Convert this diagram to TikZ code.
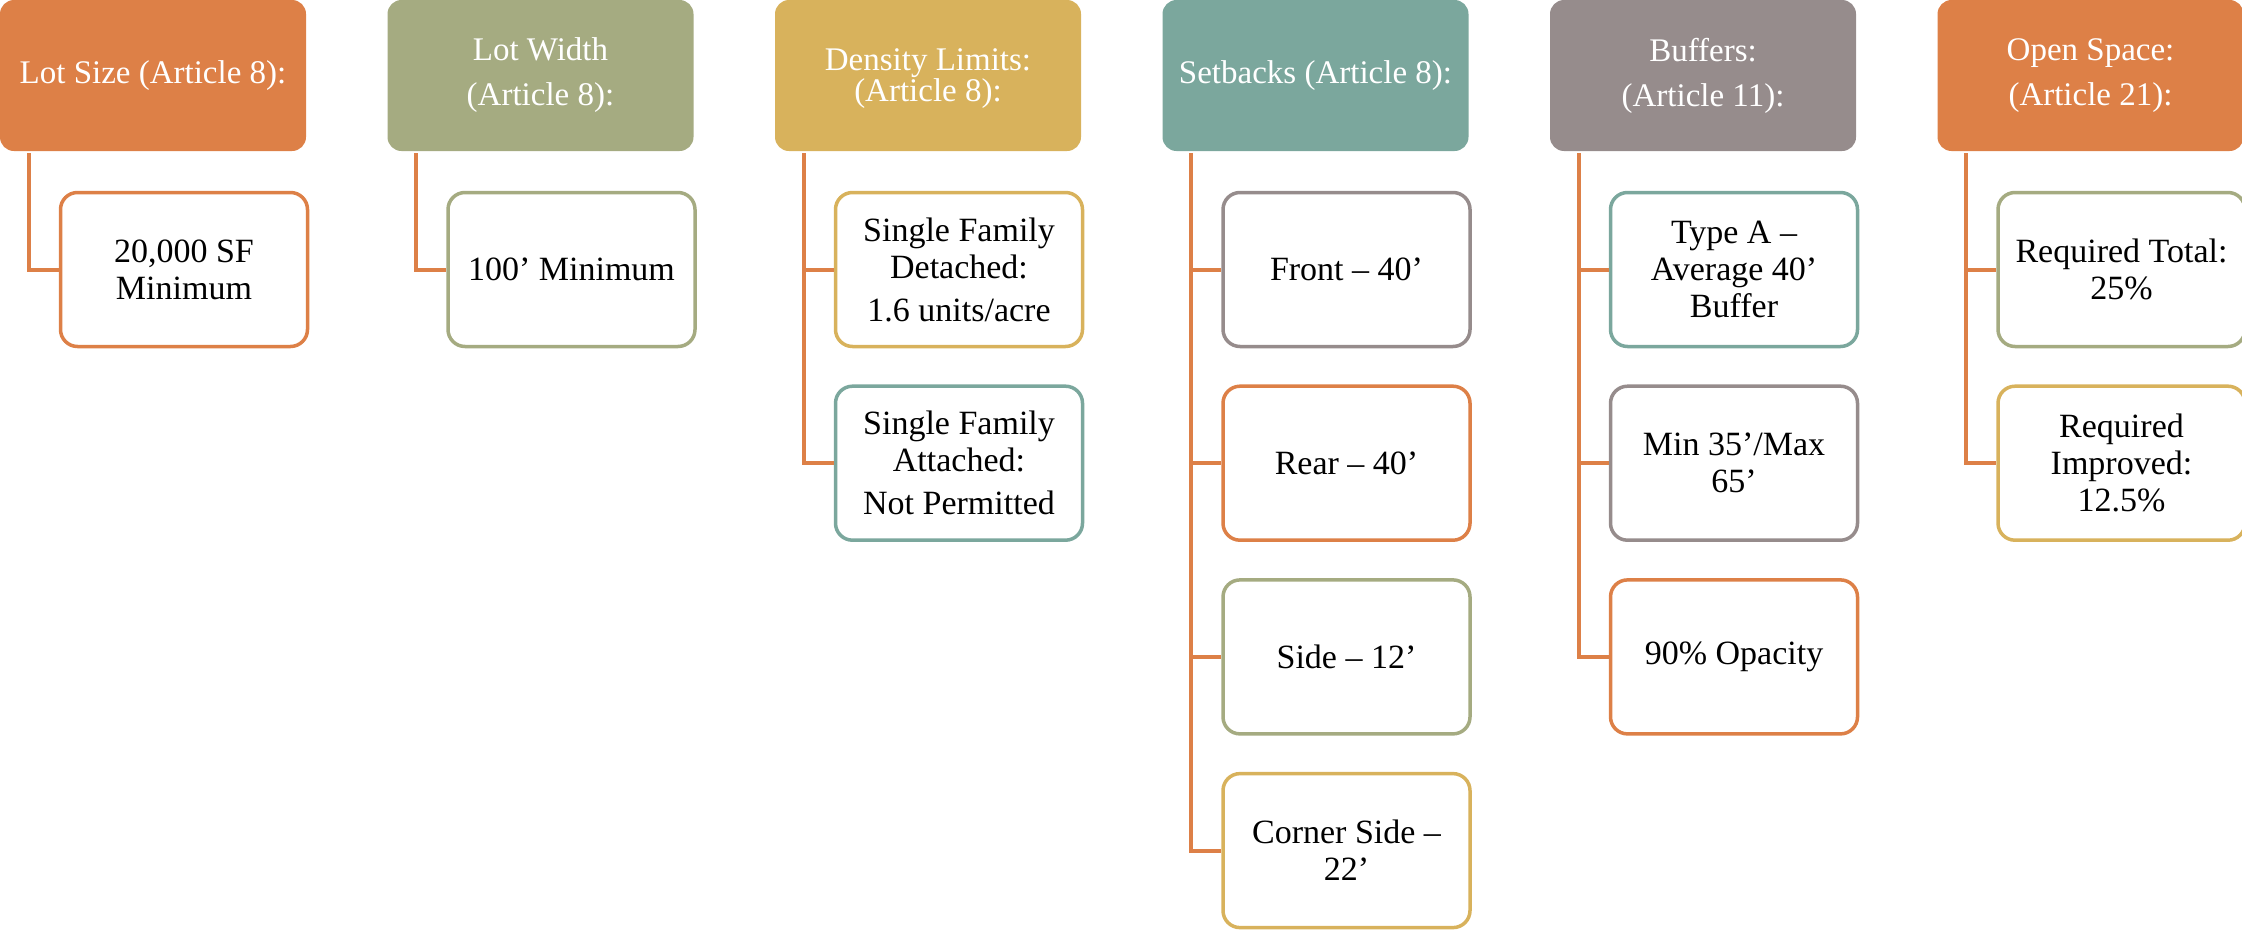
\documentclass[tikz,border=0pt]{standalone}
\usepackage{fontspec}
\setmainfont{Liberation Serif}
\definecolor{corange}{HTML}{DD8047}
\definecolor{colive}{HTML}{A5AB81}
\definecolor{cgold}{HTML}{D8B25C}
\definecolor{cteal}{HTML}{7BA79D}
\definecolor{cgrey}{HTML}{968C8C}
\tikzset{
  hdr/.style={fill=#1, draw=none, rounded corners=14pt, minimum width=306pt, minimum height=151pt,
    text=white, align=center, font=\fontsize{33}{45}\selectfont, inner sep=0pt},
  child/.style={draw=#1, fill=white, line width=3.5pt, rounded corners=17pt, minimum width=247pt,
    minimum height=154pt, text=black, align=center, font=\fontsize{34}{37}\selectfont, inner sep=0pt},
  conn/.style={draw=corange, line width=4pt}
}
\begin{document}
\begin{tikzpicture}[x=1pt,y=-1pt]
\useasboundingbox (0,0) rectangle (2242,929);
% headers
\node[hdr=corange] (h1) at (153,75.5) {Lot Size (Article 8):};
\node[hdr=colive] (h2) at (540.5,75.5) {Lot Width\\(Article 8):};
\node[hdr=cgold] (h3) at (928,75.5) {};
\node[text=white, align=center, font=\fontsize{33}{31}\selectfont, inner sep=0pt] (h3t) at (928,79) {Density Limits:\\(Article 8):};
\node[hdr=cteal] (h4) at (1315.5,75.5) {Setbacks (Article 8):};
\node[hdr=cgrey] (h5) at (1703,75.5) {Buffers:\\(Article 11):};
\node[hdr=corange] (h6) at (2090.5,75.5) {Open Space:\\(Article 21):};
% children
\node[child=corange] (c11) at (184,269.5) {20,000 SF\\Minimum};
\node[child=colive] (c21) at (571.5,269.5) {100’ Minimum};
\node[child=cgold] (c31) at (959,269.5) {Single Family\\Detached:\\[6pt]1.6 units/acre};
\node[child=cteal] (c32) at (959,463.2) {Single Family\\Attached:\\[6pt]Not Permitted};
\node[child=cgrey] (c41) at (1346.5,269.5) {Front – 40’};
\node[child=corange] (c42) at (1346.5,463.2) {Rear – 40’};
\node[child=colive] (c43) at (1346.5,656.9) {Side – 12’};
\node[child=cgold] (c44) at (1346.5,850.6) {Corner Side –\\22’};
\node[child=cteal] (c51) at (1734,269.5) {Type A –\\Average 40’\\Buffer};
\node[child=cgrey] (c52) at (1734,463.2) {Min 35’/Max\\65’};
\node[child=corange] (c53) at (1734,656.9) {90\% Opacity};
\node[child=colive] (c61) at (2121.5,269.5) {Required Total:\\25\%};
\node[child=cgold] (c62) at (2121.5,463.2) {Required\\Improved:\\12.5\%};
% connectors
\foreach \h/\c in {h1/c11, h2/c21, h3/c31, h3/c32, h4/c41, h4/c42, h4/c43, h4/c44, h5/c51, h5/c52, h5/c53, h6/c61, h6/c62}
  \draw[conn] ([xshift=29pt,yshift=-2pt]\h.south west) |- (\c.west);
\end{tikzpicture}
\end{document}
